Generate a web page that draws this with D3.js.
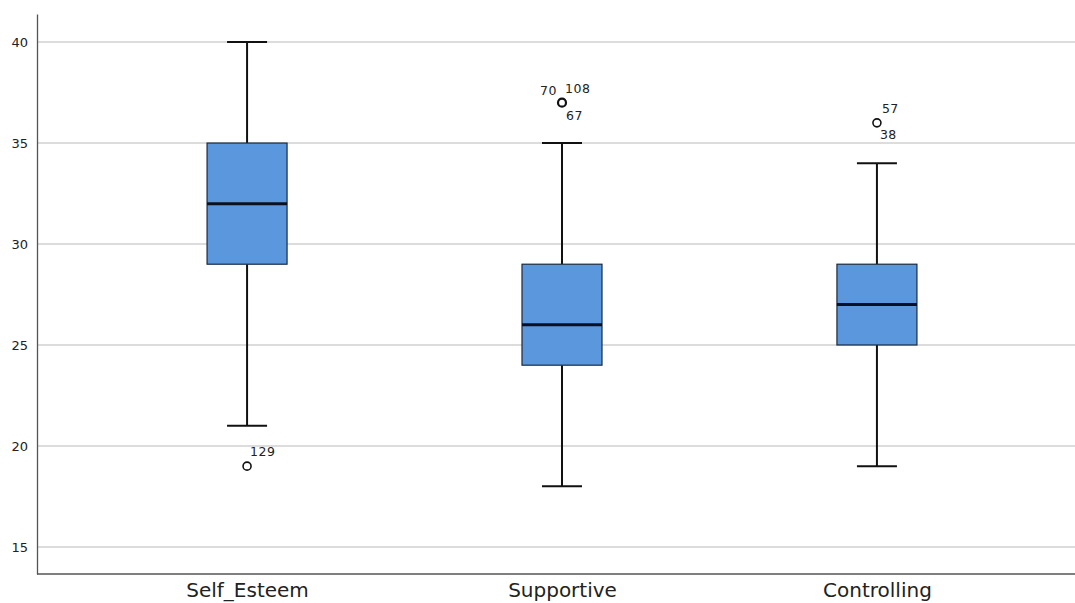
<!DOCTYPE html>
<html>
<head>
<meta charset="utf-8">
<script src="https://d3js.org/d3.v7.min.js"></script>
<style>
  body { margin: 0; background: #fff; }
  text { font-family: "DejaVu Sans", sans-serif; }
</style>
</head>
<body>
<svg width="1075" height="603"></svg>
<script>
// chart values
var categories = ["Self_Esteem", "Supportive", "Controlling"];
var lowWhisker = [21, 18, 19];
var q1 = [29, 24, 25];
var medians = [32, 26, 27];
var q3 = [35, 29, 29];
var highWhisker = [40, 35, 34];
// outliers: [category index, value, case labels]
var outlierCat = [0, 1, 2];
var outlierVal = [19, 37, 36];
var outlierIds = [["129"], ["70", "108", "67"], ["57", "38"]];
var yTicks = [15, 20, 25, 30, 35, 40];

var svg = d3.select("svg");
var plotLeft = 37, plotTop = 14, plotBottom = 574, plotRight = 1087;

var y = d3.scaleLinear().domain([13.66, 41.39]).range([plotBottom, plotTop]);
var x = d3.scalePoint().domain(categories).range([plotLeft, plotRight]).padding(0.667);

// grid lines
svg.append("g").selectAll("line").data(yTicks).enter().append("line")
  .attr("x1", plotLeft).attr("x2", 1075)
  .attr("y1", function (d) { return y(d); })
  .attr("y2", function (d) { return y(d); })
  .attr("stroke", "#d0d0d0").attr("stroke-width", 1.5);

// y axis
var yAxis = svg.append("g")
  .attr("transform", "translate(" + plotLeft + ",0)")
  .call(d3.axisLeft(y).tickValues(yTicks).tickSize(0).tickPadding(9));
yAxis.select(".domain").attr("stroke", "#555").attr("stroke-width", 1.3);
yAxis.selectAll("text").style("font-size", "13px").attr("fill", "#222");

// x axis
var xAxis = svg.append("g")
  .attr("transform", "translate(0," + plotBottom + ")")
  .call(d3.axisBottom(x).tickSize(0).tickPadding(8));
xAxis.select(".domain").attr("d", "M" + plotLeft + ",0H1075").attr("stroke", "#555").attr("stroke-width", 1.3);
xAxis.selectAll("text").style("font-size", "20px").attr("fill", "#222").attr("dy", "0.74em");

var boxW = 80, capW = 40;
var g = svg.append("g");

categories.forEach(function (c, i) {
  var cx = x(c);
  // whisker stems
  g.append("line").attr("x1", cx).attr("x2", cx)
    .attr("y1", y(highWhisker[i])).attr("y2", y(q3[i]))
    .attr("stroke", "#111").attr("stroke-width", 2);
  g.append("line").attr("x1", cx).attr("x2", cx)
    .attr("y1", y(q1[i])).attr("y2", y(lowWhisker[i]))
    .attr("stroke", "#111").attr("stroke-width", 2);
  // caps
  [highWhisker[i], lowWhisker[i]].forEach(function (v) {
    g.append("line").attr("x1", cx - capW / 2).attr("x2", cx + capW / 2)
      .attr("y1", y(v)).attr("y2", y(v))
      .attr("stroke", "#111").attr("stroke-width", 2);
  });
  // box
  g.append("rect")
    .attr("x", cx - boxW / 2).attr("width", boxW)
    .attr("y", y(q3[i])).attr("height", y(q1[i]) - y(q3[i]))
    .attr("fill", "#5b97dd").attr("stroke", "#1a2a40").attr("stroke-width", 1.2);
  // median
  g.append("line").attr("x1", cx - boxW / 2).attr("x2", cx + boxW / 2)
    .attr("y1", y(medians[i])).attr("y2", y(medians[i]))
    .attr("stroke", "#0a1020").attr("stroke-width", 3);
});

// outliers and their case labels
var labelOffsets = [
  [[3, -10]],
  [[-22, -8], [3, -10], [4, 17]],
  [[5, -10], [3, 16]]
];
outlierCat.forEach(function (ci, k) {
  var cx = x(categories[ci]), cy = y(outlierVal[k]);
  g.append("circle").attr("cx", cx).attr("cy", cy).attr("r", 4)
    .attr("fill", "#fff").attr("stroke", "#111").attr("stroke-width", ci === 1 ? 2.2 : 1.6);
  outlierIds[k].forEach(function (lab, j) {
    var off = labelOffsets[k][j];
    g.append("text").attr("x", cx + off[0]).attr("y", cy + off[1])
      .style("font-size", "12.5px").attr("fill", "#222")
      .attr("letter-spacing", "0.5px")
      .text(lab);
  });
});
</script>
</body>
</html>
